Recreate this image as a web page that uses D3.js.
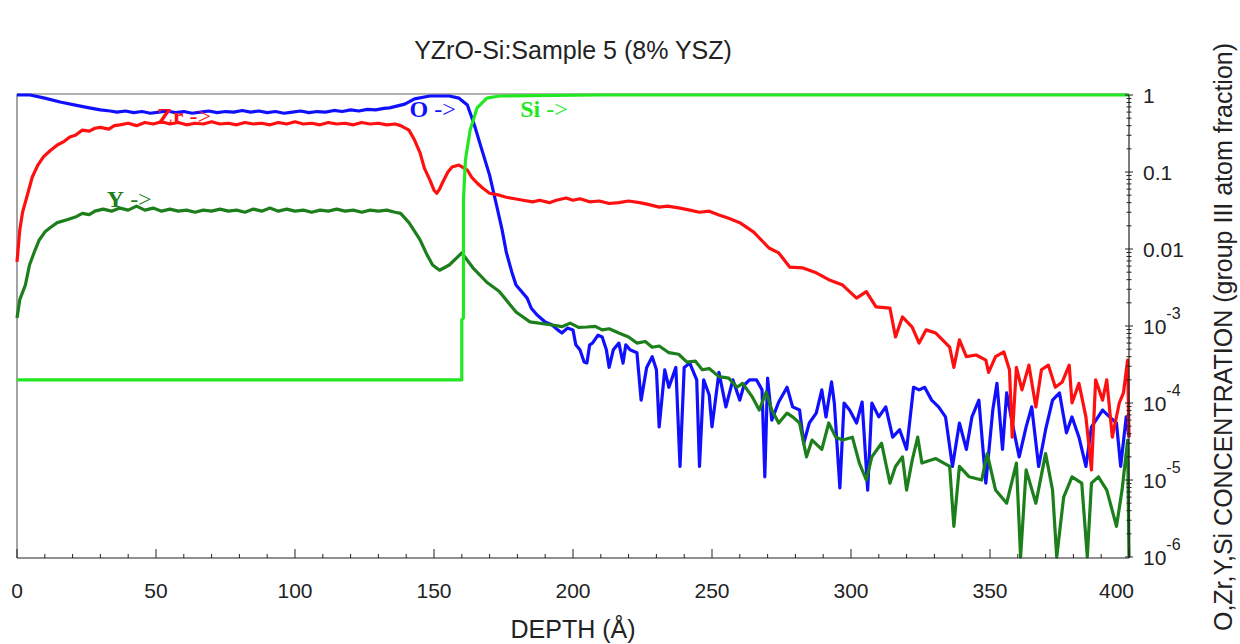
<!DOCTYPE html>
<html><head><meta charset="utf-8">
<script src="https://cdn.jsdelivr.net/npm/d3@7"></script>
<style>
html,body{margin:0;padding:0;background:#fff;}
svg{display:block;}
</style></head>
<body>
<svg id="chart" width="1240" height="644"></svg>
<script>
const title = "YZrO-Si:Sample 5 (8% YSZ)";
const xLabel = "DEPTH (Å)";
const yLabel = "O,Zr,Y,Si CONCENTRATION (group III atom fraction)";
const xTicks = [0, 50, 100, 150, 200, 250, 300, 350, 400];
const yTicks = [1, 0.1, 0.01, 1e-3, 1e-4, 1e-5, 1e-6];
const yTickLabels = [["1",""],["0.1",""],["0.01",""],["10","-3"],["10","-4"],["10","-5"],["10","-6"]];
const seriesNames = ["O", "Zr", "Y", "Si"];

// [depth (Å), concentration]
const oData = [
[0,1.0],[4.7,1.0],[10,0.91],[15.5,0.81],[21,0.74],[26,0.68],[30,0.64],[33.5,0.62],[36,0.60],[39,0.62],[42,0.59],[45,0.61],[48,0.58],[51,0.60],[54,0.62],[57,0.59],[60,0.61],[63,0.58],[66,0.60],
[69,0.62],[72,0.59],[75,0.61],[78,0.60],[81,0.63],[84,0.60],[87,0.62],[90,0.59],[93,0.61],[96,0.58],[99,0.60],[102,0.62],[105,0.59],[108,0.61],[111,0.60],[114,0.63],[117,0.61],[120,0.64],
[123,0.62],[126,0.65],[129,0.64],[132,0.67],[134,0.68],[139.5,0.76],[143,0.89],[148.5,0.97],[155.5,0.97],[159,0.91],
[162,0.74],[164.5,0.41],[167.5,0.18],[170,0.091],[172.5,0.037],[174.5,0.0177],[176,0.0091],[178,0.0050],[179.5,0.0034],[181.5,0.0028],[183.5,0.0023],[185,0.0017],[187,0.0014],[190,0.00113],[192.5,0.00103],
[194.5,0.00089],[196,0.00081],[198,0.00094],[200,0.00089],[201,0.00057],[202.5,0.00049],[204,0.00034],[205,0.00033],[206,0.00057],[207,0.00060],[209,0.00076],[210.5,0.00072],[212,0.00049],[213,0.00029],
[214.5,0.00049],[216.5,0.00060],[218,0.00033],[219,0.00057],[220.5,0.00049],[223,0.00045],[224.5,0.000109],[226.5,0.00029],[228.5,0.00040],[230,0.00027],[231,4.9e-5],[233,0.00027],[234.5,0.00016],
[237,0.00029],[238.5,1.5e-5],[240,0.00029],[242,0.00033],[244.5,0.00020],[245.5,1.5e-5],[247,0.00020],[249,0.000127],[250,4.9e-5],[252.5,0.00025],[255,8.9e-5],[257.5,0.00020],[260,0.000109],
[261.5,0.00017],[263.5,0.00020],[266,0.00020],[268,0.000148],[269,1.1e-5],[270,0.00021],[271.5,6.0e-5],[274,0.000103],[277,0.00016],[279,8.9e-5],[281.5,8.1e-5],[283,3.0e-5],[285,5.5e-5],
[287.5,7.4e-5],[289.5,0.000148],[291,6.6e-5],[293,0.000188],[294,0.0001],[296,7.9e-6],[297.5,0.0001],[299.5,8.1e-5],[302,5.5e-5],[304,0.000103],[306,7.4e-6],[307.5,0.0001],[310,6.6e-5],
[312.5,8.9e-5],[315,3.6e-5],[317.5,4.5e-5],[320,2.5e-5],[322.5,0.00016],[324.5,0.000148],[326.5,0.00016],[329,0.000109],[331.5,8.9e-5],[334,6.6e-5],[336.5,1.5e-5],[339,5.5e-5],[341.5,2.5e-5],
[343.5,6.6e-5],[346,0.000109],[348.5,9.1e-6],[351,8.1e-5],[352.5,0.00018],[354.5,2.5e-5],[356,0.000135],[358,5.5e-5],[360.5,2.0e-5],[363,4.9e-5],[365,8.9e-5],[367.5,1.5e-5],[370,4.5e-5],
[372.5,0.000109],[375,0.000135],[377.5,4.1e-5],[379.5,6.6e-5],[382,3.6e-5],[384.5,1.5e-5],[386.5,4.9e-5],[390.5,8.1e-5],[393,6.6e-5],[395.5,5.5e-5],[397,1.5e-5],[399,6.6e-5],[400,3.6e-5]
];
const zrData = [
[0,0.0068],[1,0.0177],[2,0.030],[3.5,0.047],[5.5,0.086],[7.5,0.123],[9.5,0.157],[12,0.19],[14.5,0.224],[17,0.25],[19,0.285],[21,0.30],[23.5,0.35],[26,0.34],[28,0.37],[30,0.38],[33,0.36],[35,0.40],
[37,0.41],[40,0.43],[43,0.40],[46,0.44],[49,0.42],[52,0.45],[55,0.42],[58,0.44],[61,0.41],[64,0.43],[67,0.42],[70,0.45],[73,0.42],[76,0.43],[79,0.41],[82,0.44],[85,0.42],[88,0.43],[91,0.41],
[94,0.44],[97,0.42],[100,0.45],[103,0.42],[106,0.43],[109,0.41],[112,0.44],[115,0.42],[118,0.43],[121,0.41],[124,0.44],[127,0.42],[130,0.43],[133,0.41],[136,0.42],[138,0.40],
[141,0.35],[143,0.26],[145,0.177],[146.5,0.113],[148.5,0.079],[150,0.058],[151,0.053],[152,0.060],[153,0.072],[155,0.100],
[156.5,0.116],[159,0.123],[162,0.106],[163.5,0.086],[165.5,0.072],[167.5,0.062],[170,0.053],[173.5,0.050],[176,0.047],[179,0.045],[182,0.043],[185.5,0.041],[188,0.043],[191.5,0.040],[194,0.043],
[197.5,0.046],[200,0.043],[202.5,0.045],[206,0.041],[209.5,0.042],[213,0.039],[216.5,0.040],[220,0.042],[224,0.040],[227,0.038],[231,0.035],[234,0.036],[238.5,0.034],[242,0.032],[245.5,0.030],
[249,0.031],[252.5,0.0277],[256,0.025],[260,0.022],[265,0.0166],[270.5,0.0103],[274,0.0089],[278,0.0058],[282.5,0.0057],[287.5,0.0049],[292,0.0040],
[297,0.0034],[302,0.0023],[305.5,0.0028],[309,0.00177],[314,0.00171],[316,0.00072],[318.5,0.00131],[322,0.00097],[324.5,0.00060],[327,0.00089],[330.5,0.00081],[335.5,0.00053],[337,0.00029],
[339,0.00066],[341.5,0.00040],[345,0.00042],[348.5,0.00036],[349.5,0.00025],[352,0.00040],[355,0.00046],[357,0.00027],[358,3.6e-5],[359.5,0.00029],[361.5,0.000148],[364,0.00031],[366.5,8.9e-5],
[368.5,0.00027],[371,0.00031],[373.5,0.00016],[376,0.000188],[378.5,0.00031],[379.5,0.0001],[382,0.00018],[384.5,6.6e-5],[386.5,1.35e-5],[388,0.00020],[390.5,0.000109],[392,0.00020],[394,3.6e-5],
[396.5,0.0001],[398,0.000135],[399.5,0.00036],[400,3.6e-5]
];
const yData = [
[0,0.00127],[1,0.0022],[3,0.0034],[4.5,0.0062],[6.5,0.0097],[8,0.0131],[10,0.0166],[12,0.019],[14.5,0.022],[18,0.024],[21,0.026],[23.5,0.029],[26,0.028],
[28,0.031],[31,0.033],[34,0.031],[37,0.034],[40,0.032],[43,0.036],[46,0.032],[49,0.034],[52,0.031],[55,0.033],[58,0.031],[61,0.032],[64,0.030],[67,0.032],[70,0.031],[73,0.033],[76,0.031],
[79,0.032],[82,0.030],[85,0.033],[88,0.031],[91,0.034],[94,0.031],[97,0.033],[100,0.031],[103,0.032],[106,0.030],[109,0.032],[112,0.031],[115,0.033],[118,0.031],[121,0.032],[124,0.030],
[127,0.032],[130,0.031],[133,0.032],[136,0.030],
[138,0.029],[141,0.022],[145,0.0131],[147.5,0.0084],[149.5,0.0062],[152,0.0053],[155.5,0.0062],[160,0.0089],[164,0.0057],
[169,0.0037],[173.5,0.0028],[179.5,0.00152],[184.5,0.00113],[192.5,0.00103],[196,0.00098],[199,0.00109],[202,0.00096],[205,0.00097],[208,0.00099],[210.5,0.00089],[213,0.00092],[216.5,0.00081],
[220,0.00072],[223,0.00060],[226,0.00063],[228.5,0.00053],[231,0.00055],[234.5,0.00045],[238,0.00043],[241,0.00034],[244,0.00035],
[246.5,0.00027],[249,0.00028],[252.5,0.00022],[256,0.00021],[259,0.00016],[261,0.00018],[264.5,0.00012],[267,8.1e-5],[269.5,0.000139],[271.5,8.1e-5],[274,5.5e-5],[277,7.4e-5],[279,6.6e-5],[281.5,5.5e-5],[284,2.0e-5],[286,3.3e-5],
[289.5,2.5e-5],[292,5.5e-5],[294.5,3.6e-5],[297,3.3e-5],[300.5,3.6e-5],[303,1.66e-5],[305.5,1.0e-5],[307.5,2.0e-5],[311,3.0e-5],[314,9.1e-6],[316,1.5e-5],[318.5,2.0e-5],[320,7.4e-6],[322,1.8e-5],
[324,3.6e-5],[325.5,1.66e-5],[330.5,1.9e-5],[335.5,1.5e-5],[337,2.5e-6],[339,1.5e-5],[342.5,1.1e-5],[347,1.0e-5],[349,2.2e-5],[352,7.4e-6],[356,5.0e-6],[359.5,1.66e-5],[361,1.0e-6],[363,1.35e-5],
[366.5,5.0e-6],[370,2.2e-5],[372.5,7.4e-6],[374,1.0e-6],[376.5,6.0e-6],[379.5,1.1e-5],[383,9.1e-6],[385,1.0e-6],[386.5,9.1e-6],[389,1.1e-5],[392,7.4e-6],[395.5,2.5e-6],[397.5,7.4e-6],[399.5,3.3e-5],
[400,1.0e-6]
];
const siData = [
[0,2.0e-4],[160,2.0e-4],[160,0.0012],[160.6,0.00127],[160.6,0.043],[161.3,0.143],[163,0.35],[165.5,0.68],[169,0.91],[173.5,0.97],[209.5,1.0],[400,1.0]
];

const svg = d3.select("#chart");
const L = 17, R = 1129, T = 95, B = 557;
const x = d3.scaleLinear().domain([0, 400]).range([L, R]);
const y = d3.scaleLog().domain([1e-6, 1]).range([B, T]);
const sans = "Arial, Liberation Sans, sans-serif";

// frame (left & top, gray)
svg.append("line").attr("x1", L).attr("x2", L).attr("y1", T - 1).attr("y2", B + 1).attr("stroke", "#666").attr("stroke-width", 1.2);
svg.append("line").attr("x1", L).attr("x2", R).attr("y1", T - 1).attr("y2", T - 1).attr("stroke", "#666").attr("stroke-width", 1.2);

const line = d3.line().x(d => x(d[0])).y(d => y(d[1]));
const series = [
  {data: oData, color: "#1010ff"},
  {data: zrData, color: "#ff1010"},
  {data: yData, color: "#1c7f1c"},
  {data: siData, color: "#22e822"}
];
const g = svg.append("g");
series.forEach(s => {
  g.append("path").datum(s.data).attr("d", line).attr("fill", "none")
    .attr("stroke", s.color).attr("stroke-width", 3.2).attr("stroke-linejoin", "round");
});

// bottom axis
const xAxis = svg.append("g").attr("transform", `translate(0,${B + 1})`);
xAxis.append("line").attr("x1", L).attr("x2", R).attr("stroke", "#222").attr("stroke-width", 1.2);
d3.range(0, 401, 10).forEach(v => {
  const major = v % 50 === 0;
  xAxis.append("line").attr("x1", x(v)).attr("x2", x(v)).attr("y1", 0).attr("y2", major ? -9 : -4)
    .attr("stroke", "#222").attr("stroke-width", 1);
});
xAxis.selectAll("text.tick").data(xTicks).join("text").attr("class", "tick")
  .attr("x", d => d === 400 ? x(d) + 5 : x(d)).attr("y", 40)
  .attr("text-anchor", d => d === 400 ? "end" : "middle")
  .attr("font-family", sans).attr("font-size", 21).attr("fill", "#222")
  .text(d => d);

// right axis
const yAxis = svg.append("g").attr("transform", `translate(${R},0)`);
yAxis.append("line").attr("y1", T).attr("y2", B + 1).attr("stroke", "#222").attr("stroke-width", 1.2);
y.ticks().forEach(v => {
  const m = Math.round(v / Math.pow(10, Math.floor(Math.log10(v) + 1e-9)));
  const major = m === 1;
  yAxis.append("line").attr("x1", major ? -4 : -2.5).attr("x2", major ? 4 : 2.5)
    .attr("y1", y(v)).attr("y2", y(v)).attr("stroke", "#222").attr("stroke-width", 1);
});
yTicks.forEach((v, i) => {
  const t = yAxis.append("text").attr("x", 14).attr("y", y(v) + 8)
    .attr("font-family", sans).attr("font-size", 21).attr("fill", "#222");
  t.append("tspan").text(yTickLabels[i][0]);
  if (yTickLabels[i][1]) t.append("tspan").attr("dy", -15).attr("font-size", 16).text(yTickLabels[i][1]);
});

// titles
svg.append("text").attr("x", 573).attr("y", 59).attr("text-anchor", "middle")
  .attr("font-family", sans).attr("font-size", 25).attr("fill", "#222").text(title);
svg.append("text").attr("x", 573).attr("y", 638).attr("text-anchor", "middle")
  .attr("font-family", sans).attr("font-size", 25).attr("fill", "#222").text(xLabel);
svg.append("text").attr("transform", "translate(1232,337) rotate(-90)").attr("text-anchor", "middle")
  .attr("font-family", sans).attr("font-size", 25).attr("fill", "#222").text(yLabel);

// in-plot labels
const labels = [
  {name: "Zr", x: 50.3, v: 0.42, color: "#ff1010"},
  {name: "O", x: 141.2, v: 0.52, color: "#1010ff"},
  {name: "Si", x: 181, v: 0.52, color: "#22e822"},
  {name: "Y", x: 32.3, v: 0.035, color: "#1c7f1c"}
];
labels.forEach(l => {
  const t = svg.append("text").attr("x", x(l.x)).attr("y", y(l.v))
    .attr("font-family", "Liberation Serif, Times New Roman, serif").attr("font-size", 24).attr("fill", l.color);
  t.append("tspan").attr("font-weight", "bold").text(l.name);
  t.append("tspan").text(" ->");
});
</script>
</body></html>
